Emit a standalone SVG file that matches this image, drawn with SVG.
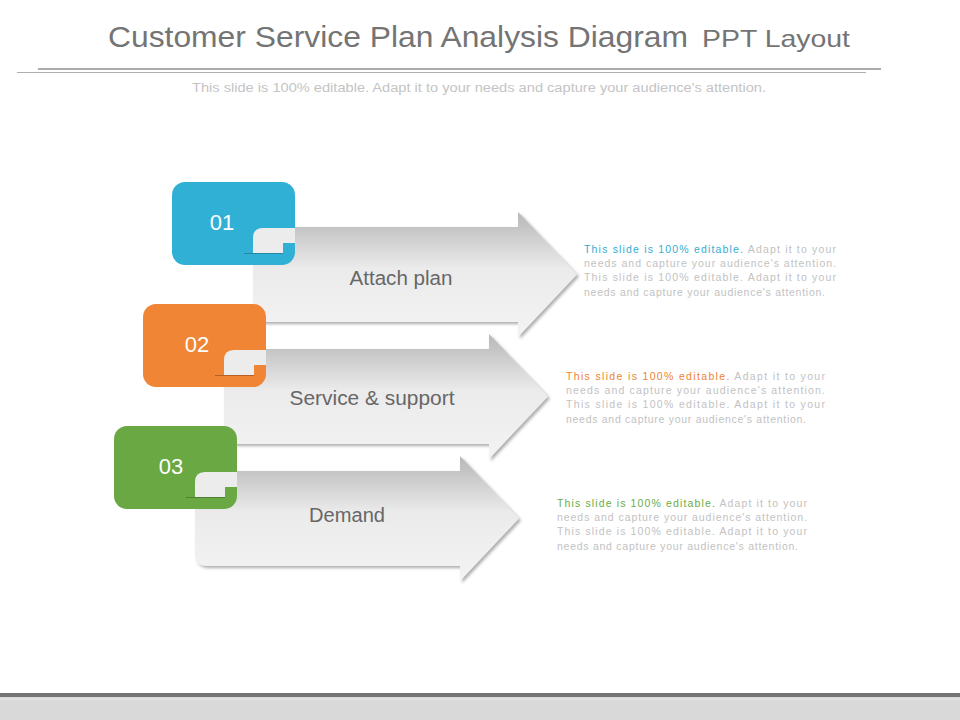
<svg xmlns="http://www.w3.org/2000/svg" width="960" height="720" viewBox="0 0 960 720">
<style>
.title{font-family:"Liberation Sans",Arial,sans-serif;fill:#747474}
.sub{font-family:"Liberation Sans",Arial,sans-serif;font-size:12px;fill:#c4c4c4}
.lbl{font-family:"Liberation Sans",Arial,sans-serif;font-size:20px;fill:#676767;text-anchor:middle}
.num{font-family:"Liberation Sans",Arial,sans-serif;font-size:22px;fill:#ffffff;text-anchor:middle}
.desc{font-family:"Liberation Sans",Arial,sans-serif;font-size:10.5px;fill:#c2c2c2}
.tab{fill:#ececec}
</style>
<defs>
<linearGradient id="ag" x1="0" y1="0" x2="0" y2="1">
<stop offset="0" stop-color="#b9b9b9"/>
<stop offset="0.12" stop-color="#c4c4c4"/>
<stop offset="0.45" stop-color="#ebebeb"/>
<stop offset="1" stop-color="#f3f3f3"/>
</linearGradient>
<filter id="sh" x="-10%" y="-10%" width="125%" height="125%">
<feDropShadow dx="2" dy="2" stdDeviation="1.5" flood-color="#777" flood-opacity="0.6"/>
</filter>
</defs>
<rect width="960" height="720" fill="#ffffff"/>
<g id="header">
<text class="title" x="108" y="47" font-size="30" textLength="580" lengthAdjust="spacingAndGlyphs">Customer Service Plan Analysis Diagram</text>
<text class="title" x="702" y="47" font-size="24" textLength="148" lengthAdjust="spacingAndGlyphs">PPT Layout</text>
<line x1="38" y1="69" x2="881" y2="69" stroke="#5a5a5a" stroke-width="1.2"/>
<line x1="17" y1="72.5" x2="866" y2="72.5" stroke="#9a9a9a" stroke-width="0.8"/>
<text class="sub" x="192" y="92" textLength="574" lengthAdjust="spacingAndGlyphs">This slide is 100% editable. Adapt it to your needs and capture your audience's attention.</text>
</g>
<g id="connectors"></g>
<g id="node1">
<path d="M253,227 H518 V212 L577,274.5 L518,337 V322 H265 Q253,322 253,310 Z" fill="url(#ag)" filter="url(#sh)"/>
<rect x="172" y="182" width="123" height="83" rx="13" fill="#31b0d6"/>
<path class="tab" d="M253,253 V238 Q253,228 263,228 H295 V243 H283 V253 Z"/>
<line x1="244" y1="253.5" x2="283" y2="253.5" stroke="#2387a6" stroke-width="1"/>
<text class="num" x="222" y="230">01</text>
<text class="lbl" x="401" y="285" textLength="103" lengthAdjust="spacingAndGlyphs">Attach plan</text>
</g>
<g id="node2" transform="translate(-29,122)">
<path d="M253,227 H518 V212 L577,274.5 L518,337 V322 H265 Q253,322 253,310 Z" fill="url(#ag)" filter="url(#sh)"/>
<rect x="172" y="182" width="123" height="83" rx="13" fill="#ef8535"/>
<path class="tab" d="M253,253 V238 Q253,228 263,228 H295 V243 H283 V253 Z"/>
<line x1="244" y1="253.5" x2="283" y2="253.5" stroke="#b8601f" stroke-width="1"/>
<text class="num" x="226" y="230">02</text>
<text class="lbl" x="401" y="283" textLength="165" lengthAdjust="spacingAndGlyphs">Service &amp; support</text>
</g>
<g id="node3" transform="translate(-58,244)">
<path d="M253,227 H518 V212 L577,274.5 L518,337 V322 H265 Q253,322 253,310 Z" fill="url(#ag)" filter="url(#sh)"/>
<rect x="172" y="182" width="123" height="83" rx="13" fill="#6aa843"/>
<path class="tab" d="M253,253 V238 Q253,228 263,228 H295 V243 H283 V253 Z"/>
<line x1="244" y1="253.5" x2="283" y2="253.5" stroke="#4c8030" stroke-width="1"/>
<text class="num" x="229" y="230">03</text>
<text class="lbl" x="405" y="278" textLength="76" lengthAdjust="spacingAndGlyphs">Demand</text>
</g>
<g id="desc1">
<text class="desc" x="584" y="253" textLength="252" lengthAdjust="spacing"><tspan fill="#34acd3">This slide is 100% editable.</tspan> Adapt it to your</text>
<text class="desc" x="584" y="267" textLength="252" lengthAdjust="spacing">needs and capture your audience's attention.</text>
<text class="desc" x="584" y="281" textLength="252" lengthAdjust="spacing">This slide is 100% editable. Adapt it to your</text>
<text class="desc" x="584" y="296" textLength="241" lengthAdjust="spacing">needs and capture your audience's attention.</text>
</g>
<g id="desc2">
<text class="desc" x="566" y="380" textLength="259" lengthAdjust="spacing"><tspan fill="#ee8232">This slide is 100% editable.</tspan> Adapt it to your</text>
<text class="desc" x="566" y="394" textLength="259" lengthAdjust="spacing">needs and capture your audience's attention.</text>
<text class="desc" x="566" y="408" textLength="259" lengthAdjust="spacing">This slide is 100% editable. Adapt it to your</text>
<text class="desc" x="566" y="423" textLength="240" lengthAdjust="spacing">needs and capture your audience's attention.</text>
</g>
<g id="desc3">
<text class="desc" x="557" y="507" textLength="250" lengthAdjust="spacing"><tspan fill="#6aab45">This slide is 100% editable.</tspan> Adapt it to your</text>
<text class="desc" x="557" y="521" textLength="250" lengthAdjust="spacing">needs and capture your audience's attention.</text>
<text class="desc" x="557" y="535" textLength="250" lengthAdjust="spacing">This slide is 100% editable. Adapt it to your</text>
<text class="desc" x="557" y="550" textLength="241" lengthAdjust="spacing">needs and capture your audience's attention.</text>
</g>
<g id="footer">
<rect x="0" y="693" width="960" height="4" fill="#737373"/>
<rect x="0" y="697" width="960" height="23" fill="#d9d9d9"/>
<rect x="0" y="698.5" width="960" height="1" fill="#e6e6e6"/>
</g>
</svg>
